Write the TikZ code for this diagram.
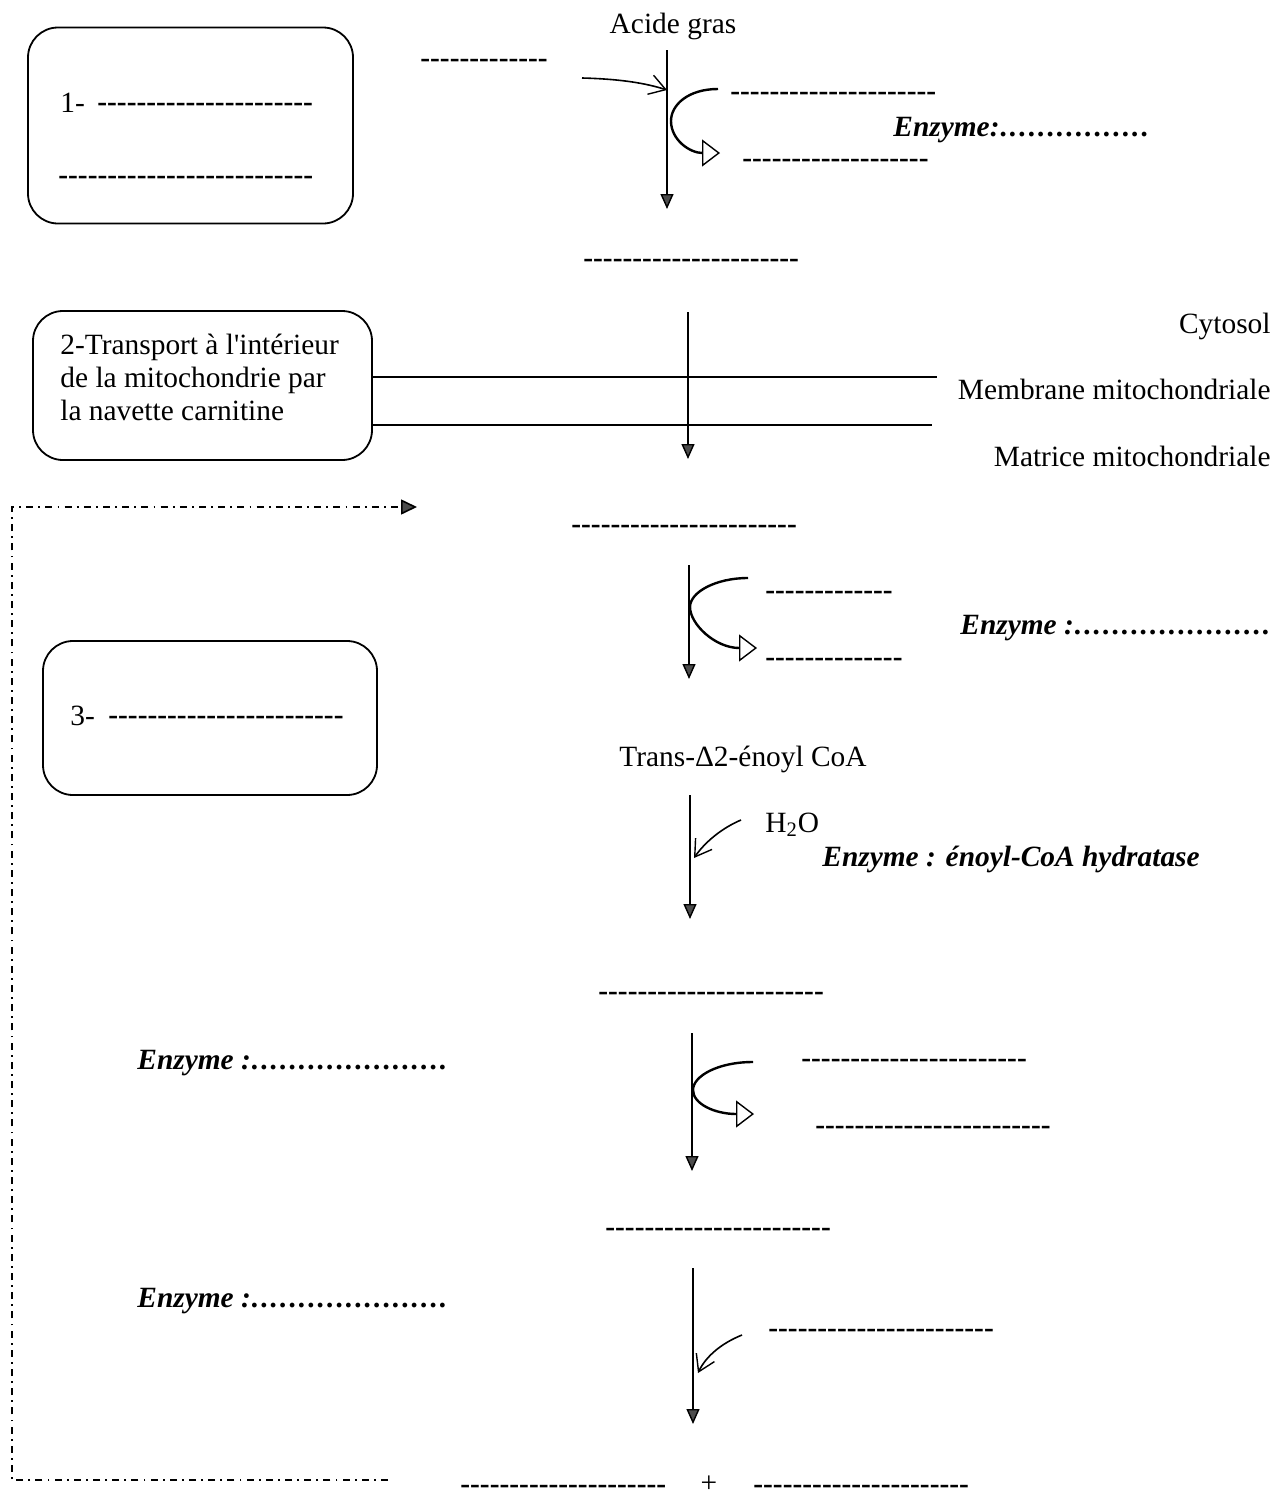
\documentclass[tikz,border=0pt]{standalone}
\usepackage{fontspec}
\setmainfont{Liberation Serif}
\newfontfamily\plainserif{Liberation Serif}
\usetikzlibrary{arrows.meta}
\newcommand\hy[1]{\foreach\i in {1,...,#1}{\makebox[4.9pt][c]{\bfseries -}}}
\newcommand\dotrow[1]{\foreach\i in {1,...,#1}{\makebox[4.7pt][c]{.}}}
\newcommand\enzlab{\textbf{\textit{Enzyme :}}}
\begin{document}
\begin{tikzpicture}[x=0.5pt,y=-0.5pt,
  every node/.style={font=\fontsize{14.7pt}{16.5pt}\selectfont},
  txt/.style={inner sep=0pt,anchor=base west},
  rtxt/.style={inner sep=0pt,anchor=base east},
  ctxt/.style={inner sep=0pt,anchor=base},
  roundbox/.style={draw,rounded corners=15pt,line width=0.9pt,inner sep=0pt},
  flow/.style={line width=0.7pt,-{Triangle[length=7.5pt,width=6.5pt,fill=black!70]}},
  hook/.style={line width=1.2pt,-{Triangle[open,length=9pt,width=13.5pt,line width=0.7pt]}},
  barb/.style={line width=0.8pt,-{Straight Barb[length=8pt,width=10pt,line width=0.7pt]}},
  membrane/.style={line width=1pt},
  loopline/.style={line width=0.8pt,dash pattern=on 3.5pt off 2.6pt on 0.9pt off 2.6pt,
     -{Triangle[length=8pt,width=7.5pt,fill=black!70]}}
]
\useasboundingbox (0,0) rectangle (1275,1499);

% ---------- boxes ----------
\node[roundbox,minimum width=162.5pt,minimum height=98pt] (b1) at (190.5,125.5) {};
\node[txt] (t1a) at (60,112) {1-};
\node[txt] (t1b) at (97,111) {\hy{22}};
\node[txt] (t1c) at (58,184) {\hy{26}};

\node[roundbox,minimum width=169.5pt,minimum height=74.5pt] (b2) at (202.5,385.5) {};
\node[txt] (t2a) at (60,354) {2-Transport à l{\plainserif '}intérieur};
\node[txt] (t2b) at (60,387) {de la mitochondrie par};
\node[txt] (t2c) at (60,420) {la navette carnitine};

\node[roundbox,minimum width=167pt,minimum height=77pt] (b3) at (210,718) {};
\node[txt] (t3a) at (70,725) {3-};
\node[txt] (t3b) at (108,724) {\hy{24}};

% ---------- step 1 ----------
\node[ctxt] (acide) at (673,33) {Acide gras};
\node[txt] (d0) at (420,67) {\hy{13}};
\coordinate (a1s) at (667,50);
\coordinate (a1e) at (667,209);
\draw[flow] (a1s) -- (a1e);
\coordinate (v1s) at (582,78);
\coordinate (v1e) at (667,90);
\draw[barb] (v1s) .. controls (620,79) and (645,83) .. (v1e);
\coordinate (h1s) at (718,89);
\coordinate (h1e) at (720,153);
\draw[hook] (h1s) .. controls (688,89) and (671,105) .. (671,121) .. controls (671,140) and (690,153) .. (h1e);
\node[txt] (d1a) at (730,100) {\hy{21}};
\node[txt] (d1b) at (742,167) {\hy{19}};
\node[txt] (enz1) at (893,136) {\textbf{\textit{Enzyme:}}\textbf{\textit{\dotrow{16}}}};

\node[txt] (d2) at (583,267) {\hy{22}};

% ---------- step 2: membrane ----------
\coordinate (a2s) at (688,312);
\coordinate (a2e) at (688,459);
\draw[flow] (a2s) -- (a2e);
\coordinate (m1) at (937,377);
\coordinate (m2) at (932,425);
\draw[membrane] (b2.east |- m1) -- (m1);
\draw[membrane] (b2.east |- m2) -- (m2);
\node[rtxt] (cyto) at (1271,333) {Cytosol};
\node[rtxt] (memb) at (1271,399) {Membrane mitochondriale};
\node[rtxt] (matr) at (1271,466) {Matrice mitochondriale};

% ---------- loop ----------
\coordinate (l1) at (388,1480);
\coordinate (l2) at (12,1480);
\coordinate (l3) at (12,507);
\coordinate (l4) at (417,507);
\draw[loopline] (l1) -- (l2) -- (l3) -- (l4);

% ---------- step 3 ----------
\node[txt] (d3) at (571,533) {\hy{23}};
\coordinate (a3s) at (689,565);
\coordinate (a3e) at (689,679);
\draw[flow] (a3s) -- (a3e);
\coordinate (h3s) at (748,578);
\coordinate (h3e) at (757,648);
\draw[hook] (h3s) .. controls (716,578) and (690,592) .. (690,607) .. controls (690,624) and (715,648) .. (h3e);
\node[txt] (d3a) at (765,599) {\hy{13}};
\node[txt] (d3b) at (765,666) {\hy{14}};
\node[txt] (enz3) at (960,634) {\enzlab\textbf{\textit{\dotrow{21}}}};

\node[ctxt] (trans) at (743,766) {Trans-Δ2-énoyl CoA};

% ---------- hydratase ----------
\coordinate (a4s) at (690,795);
\coordinate (a4e) at (690,919);
\draw[flow] (a4s) -- (a4e);
\coordinate (v4s) at (741,820);
\coordinate (v4e) at (694,858);
\draw[barb] (v4s) .. controls (722,828) and (705,842) .. (v4e);
\node[txt] (h2o) at (765,832) {H\textsubscript{2}O};
\node[txt] (enz4) at (822,866) {\textbf{\textit{Enzyme : énoyl-CoA hydratase}}};

\node[txt] (d5) at (598,1000) {\hy{23}};

% ---------- step 5 ----------
\node[txt] (enz5) at (137,1069) {\enzlab\textbf{\textit{\dotrow{21}}}};
\coordinate (a5s) at (692,1033);
\coordinate (a5e) at (692,1171);
\draw[flow] (a5s) -- (a5e);
\coordinate (h5s) at (753,1062);
\coordinate (h5e) at (754,1114);
\draw[hook] (h5s) .. controls (718,1062) and (693,1076) .. (693,1090) .. controls (693,1104) and (715,1114) .. (h5e);
\node[txt] (d5a) at (801,1067) {\hy{23}};
\node[txt] (d5b) at (815,1134) {\hy{24}};

\node[txt] (d6) at (605,1236) {\hy{23}};

% ---------- step 6 ----------
\node[txt] (enz6) at (137,1307) {\enzlab\textbf{\textit{\dotrow{21}}}};
\coordinate (a6s) at (693,1268);
\coordinate (a6e) at (693,1424);
\draw[flow] (a6s) -- (a6e);
\coordinate (v6s) at (742,1335);
\coordinate (v6e) at (698,1373);
\draw[barb] (v6s) .. controls (722,1343) and (706,1356) .. (v6e);
\node[txt] (d6a) at (768,1337) {\hy{23}};

% ---------- products ----------
\node[txt] (p1) at (460,1493) {\hy{21}};
\node[ctxt] (plus) at (709,1492) {+};
\node[txt] (p2) at (753,1493) {\hy{22}};
\end{tikzpicture}
\end{document}
